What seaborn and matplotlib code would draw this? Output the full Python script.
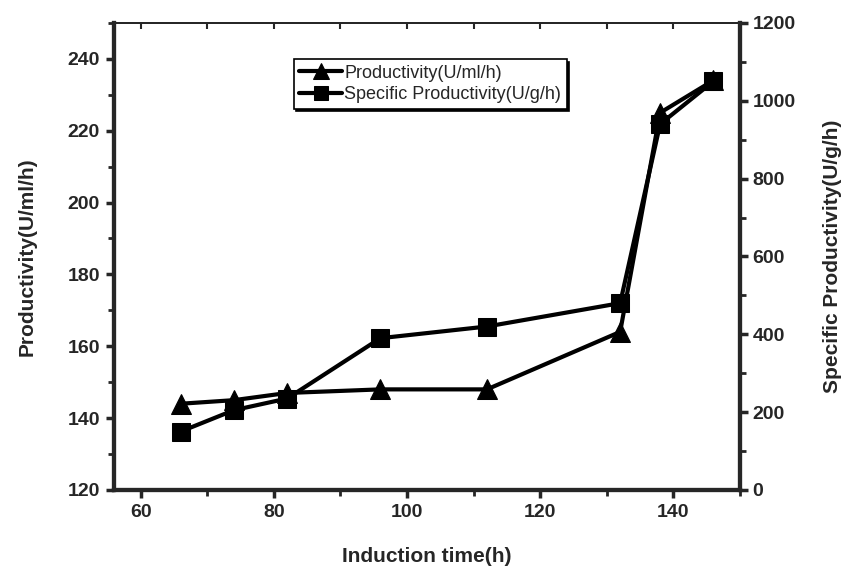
import matplotlib
matplotlib.use("Agg")
import matplotlib.pyplot as plt
import seaborn as sns
from matplotlib.ticker import MultipleLocator

# data
induction_time = [66, 74, 82, 96, 112, 132, 138, 146]
productivity = [144, 145, 147, 148, 148, 164, 225, 234]          # U/ml/h
specific_productivity = [150, 205, 235, 390, 420, 480, 940, 1050]  # U/g/h

sns.set_style("ticks")
plt.rcParams['font.family'] = ['Liberation Sans Narrow', 'Liberation Sans', 'DejaVu Sans']

fig = plt.figure(figsize=(8.47, 5.73), dpi=100)
ax = fig.add_axes([0.1346, 0.1449, 0.7391, 0.8151])
ax2 = ax.twinx()

sns.lineplot(x=induction_time, y=productivity, ax=ax, color='black',
             marker='^', markersize=15, linewidth=3, markeredgecolor='black',
             label='Productivity(U/ml/h)', legend=False)
sns.lineplot(x=induction_time, y=specific_productivity, ax=ax2, color='black',
             marker='s', markersize=13, linewidth=3, markeredgecolor='black',
             label='Specific Productivity(U/g/h)', legend=False)

ax.set_xlim(56, 150)
ax.set_ylim(120, 250)
ax2.set_ylim(0, 1200)

ax.xaxis.set_major_locator(MultipleLocator(20))
ax.xaxis.set_minor_locator(MultipleLocator(10))
ax.yaxis.set_major_locator(MultipleLocator(20))
ax.yaxis.set_minor_locator(MultipleLocator(10))
ax2.yaxis.set_major_locator(MultipleLocator(200))
ax2.yaxis.set_minor_locator(MultipleLocator(100))

for a in (ax, ax2):
    for side in ('left', 'right', 'bottom'):
        a.spines[side].set_linewidth(3)
    a.spines['top'].set_linewidth(1.2)
    a.spines['top'].set_visible(True)
    a.spines['right'].set_visible(True)

ax.tick_params(axis='both', which='major', direction='out', length=6, width=2.5,
               labelsize=14, pad=4)
ax.tick_params(axis='both', which='minor', direction='out', length=4, width=2)
ax2.tick_params(axis='y', which='major', direction='out', length=6, width=2.5,
                labelsize=14, pad=3)
ax2.tick_params(axis='y', which='minor', direction='out', length=4, width=2)

# short inward ticks along the top edge
top = ax.secondary_xaxis('top')
top.xaxis.set_major_locator(MultipleLocator(20))
top.xaxis.set_minor_locator(MultipleLocator(10))
top.tick_params(which='both', direction='in', length=4, width=1.5, labeltop=False)
top.spines['top'].set_linewidth(1.2)

for lab in ax.get_xticklabels() + ax.get_yticklabels() + ax2.get_yticklabels():
    lab.set_fontweight('heavy')

ax.set_xlabel('Induction time(h)', fontsize=15, fontweight='heavy', labelpad=19)
ax.set_ylabel('Productivity(U/ml/h)', fontsize=15, fontweight='heavy', labelpad=22)
ax2.set_ylabel('Specific Productivity(U/g/h)', fontsize=15, fontweight='heavy',
               rotation=90, labelpad=20)

h1, l1 = ax.get_legend_handles_labels()
h2, l2 = ax2.get_legend_handles_labels()
leg = ax2.legend(h1 + h2, l1 + l2, loc='upper left', bbox_to_anchor=(0.287, 0.922),
                 borderaxespad=0, fontsize=13, frameon=True, fancybox=False,
                 framealpha=1, edgecolor='black', borderpad=0.3, labelspacing=0.25,
                 handlelength=2.4, handletextpad=0.1, markerscale=0.75,
                 shadow={'color': 'black', 'alpha': 1})
leg.get_frame().set_linewidth(1.2)

fig.savefig('out.png', dpi=100)
